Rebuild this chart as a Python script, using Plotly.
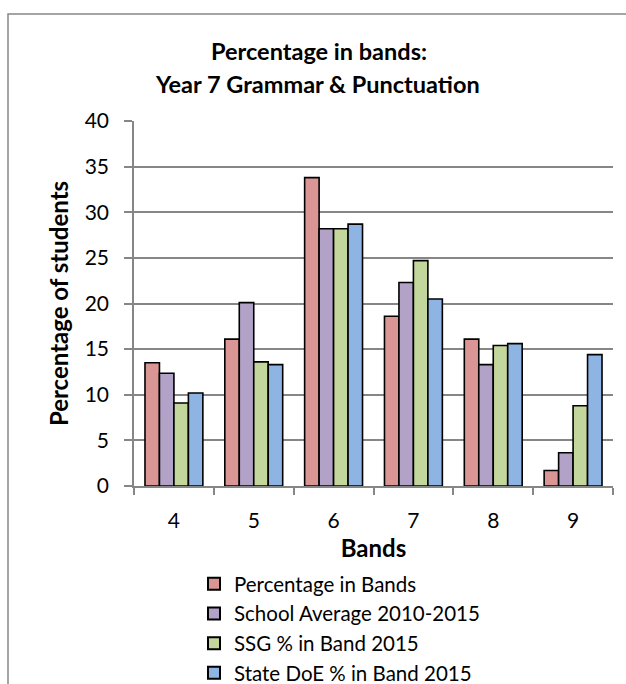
import plotly.graph_objects as go

bands = ["4", "5", "6", "7", "8", "9"]
series_names = ["Percentage in Bands", "School Average 2010-2015", "SSG % in Band 2015", "State DoE % in Band 2015"]
pct_in_bands = [13.5, 16.1, 33.8, 18.6, 16.1, 1.7]
school_avg = [12.35, 20.1, 28.2, 22.3, 13.3, 3.65]
ssg = [9.1, 13.6, 28.2, 24.7, 15.4, 8.8]
state_doe = [10.2, 13.3, 28.7, 20.5, 15.6, 14.4]
colors = ["#D99694", "#B3A2C7", "#C3D69B", "#8EB4E3"]

FONT = "Lato"
fig = go.Figure()
for name, vals, c in zip(series_names, [pct_in_bands, school_avg, ssg, state_doe], colors):
    fig.add_trace(go.Bar(x=bands, y=vals, name=name, marker=dict(color=c, line=dict(color="black", width=1.6))))

W, H = 626, 684
L, R, T, B = 134, 13, 121, 198
pw, ph = W - L - R, H - T - B

def px_x(p):
    return (p - L) / pw

def px_y(p):
    return (H - B - p) / ph

fig.update_layout(
    width=W, height=H,
    margin=dict(l=L, r=R, t=T, b=B, autoexpand=False),
    paper_bgcolor="white", plot_bgcolor="white",
    barmode="group", bargap=0.275, bargroupgap=0,
    font=dict(family=FONT, color="black", size=20),
    showlegend=True,
    legend=dict(orientation="v", x=px_x(194), y=px_y(564), xanchor="left", yanchor="top",
                font=dict(size=20.5, family=FONT), tracegroupgap=0, itemsizing="constant",
                bgcolor="rgba(0,0,0,0)"),
    xaxis=dict(type="category", showline=True, linecolor="#868686", linewidth=1.5,
               ticks="outside", tickson="boundaries", ticklen=7, tickcolor="#868686", tickwidth=1.5,
               tickfont=dict(size=21), showgrid=False, ticklabelstandoff=15,
               title=dict(text="<b>Bands</b>", font=dict(size=24), standoff=9)),
    yaxis=dict(range=[0, 40], dtick=5, showline=True, linecolor="#868686", linewidth=1.5,
               ticks="outside", ticklen=8, tickcolor="#868686", tickwidth=1.5,
               showgrid=True, gridcolor="#868686", gridwidth=1.5, zeroline=False,
               tickfont=dict(size=21), ticklabelstandoff=11,
               title=dict(text="<b>Percentage of students</b>", font=dict(size=24), standoff=9)),
    annotations=[
        dict(text="<b>Percentage in bands:</b>",
             xref="paper", yref="paper", x=px_x(319), y=px_y(51), xanchor="center", yanchor="middle",
             showarrow=False, font=dict(size=23.5, family=FONT)),
        dict(text="<b>Year 7 Grammar & Punctuation</b>",
             xref="paper", yref="paper", x=px_x(317), y=px_y(84), xanchor="center", yanchor="middle",
             showarrow=False, font=dict(size=23.5, family=FONT)),
    ],
    shapes=[
        dict(type="rect", xref="paper", yref="paper", x0=px_x(8), x1=px_x(640), y0=px_y(700), y1=px_y(14),
             line=dict(color="#868686", width=1.5), fillcolor="rgba(0,0,0,0)", layer="below"),
    ],
)
fig.write_html("out.html")
